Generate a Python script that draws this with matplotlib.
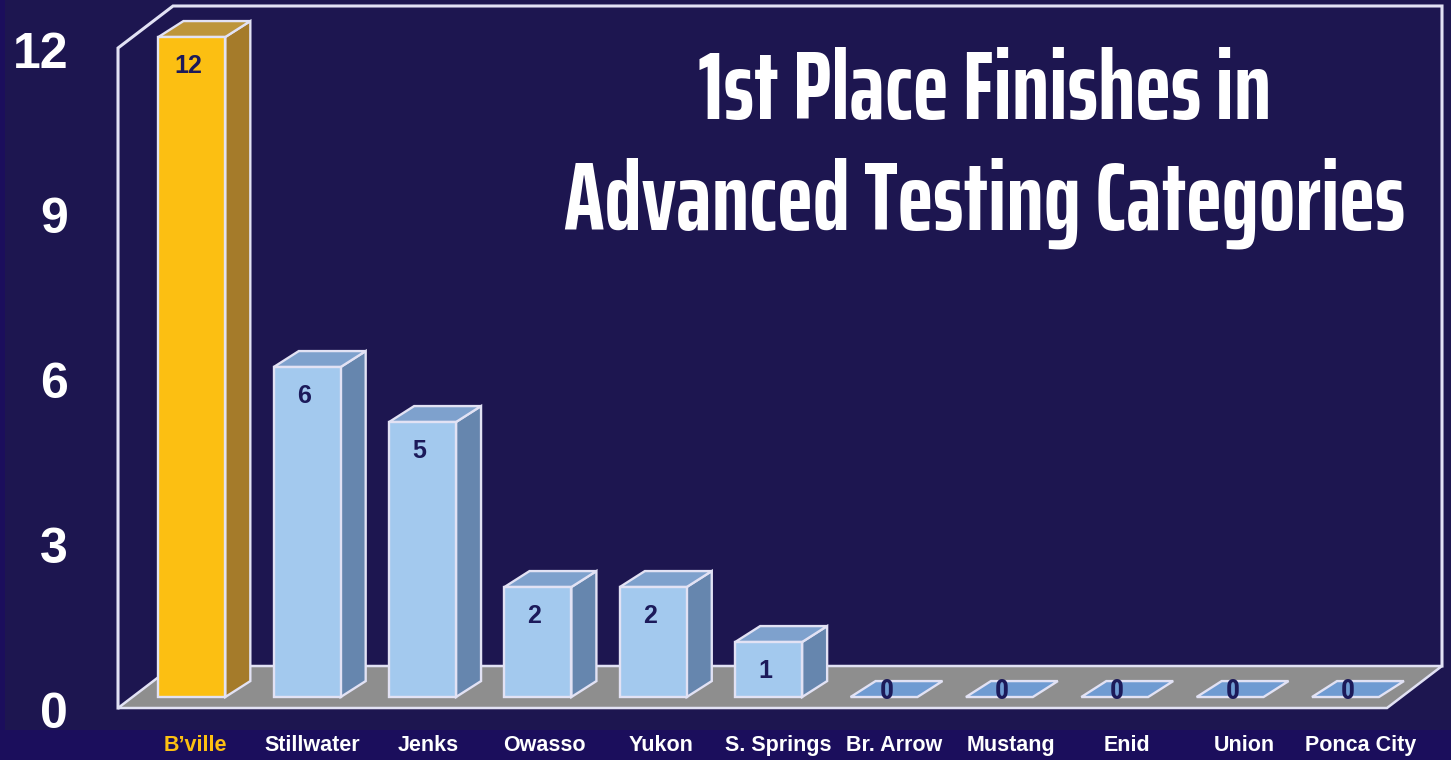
import matplotlib
matplotlib.use("Agg")
import matplotlib.pyplot as plt
from matplotlib.patches import Polygon, Rectangle

# data
schools = ["B\u2019ville", "Stillwater", "Jenks", "Owasso", "Yukon", "S. Springs",
           "Br. Arrow", "Mustang", "Enid", "Union", "Ponca City"]
wins = [12, 6, 5, 2, 2, 1, 0, 0, 0, 0, 0]
yticks = [0, 3, 6, 9, 12]
title1 = "1st Place Finishes in"
title2 = "Advanced Testing Categories"

# style
panel_bg = "#1d1650"
strip_bg = "#1b0e5c"
edge = "#e2e2f4"
floor_col = "#8e8e8e"
gold = ("#fcbf12", "#bd953a", "#a57b2a")     # front, top, side
blue = ("#a3c9ee", "#7ea1cd", "#6686ae")
zero_col = "#6f9bd2"
num_col = "#1c1a5a"
sans = ["Liberation Sans", "DejaVu Sans"]
narrow = ["Roboto Condensed", "Liberation Sans", "DejaVu Sans"]
tfont = ["Saira ExtraCondensed", "Roboto Condensed", "DejaVu Sans"]

box_dx, box_dy = 0.477, 0.764      # depth of the back wall
base_dx, base_dy = 0.14, 0.2       # bars sit a bit behind the front edge
bar_w = 0.58
bar_dx, bar_dy = 0.217, 0.29

fig = plt.figure(figsize=(14.51, 7.6), dpi=100, facecolor=strip_bg)
ax = fig.add_axes([0, 0, 1, 1])
ax.set_xlim(-1.523, 11.055)
ax.set_ylim(-0.945, 12.873)
ax.axis("off")

# panel background
ax.add_patch(Rectangle((-1.48, -0.40), 13, 14, facecolor=panel_bg, edgecolor="none", zorder=0))

n = len(schools)
x0, x1 = -0.5, n - 0.5

# floor
floor = Polygon([(x0, 0), (x1, 0), (x1 + box_dx, box_dy), (x0 + box_dx, box_dy)],
                closed=True, facecolor=floor_col, edgecolor=edge, lw=1.8, zorder=1)
ax.add_patch(floor)

# wall outline
top = yticks[-1]
ax.plot([x0, x0, x0 + box_dx, x1 + box_dx, x1 + box_dx],
        [0, top, top + box_dy, top + box_dy, box_dy],
        color=edge, lw=2.2, zorder=1, solid_joinstyle="miter")

# bars
for i, (name, v) in enumerate(zip(schools, wins)):
    front, topc, side = gold if i == 0 else blue
    c = i + base_dx
    l, r = c - bar_w / 2, c + bar_w / 2
    b = base_dy
    if v > 0:
        ax.add_patch(Polygon([(r, b), (r + bar_dx, b + bar_dy), (r + bar_dx, b + v + bar_dy), (r, b + v)],
                             facecolor=side, edgecolor=edge, lw=1.7, zorder=3))
        ax.add_patch(Polygon([(l, b + v), (r, b + v), (r + bar_dx, b + v + bar_dy), (l + bar_dx, b + v + bar_dy)],
                             facecolor=topc, edgecolor=edge, lw=1.7, zorder=3))
        ax.add_patch(Rectangle((l, b), bar_w, v, facecolor=front, edgecolor=edge, lw=1.7, zorder=4))
        ax.text(c - 0.03, b + v - 0.53, str(v), color=num_col, fontsize=18, fontweight="bold",
                family=sans, ha="center", va="center", zorder=5)
    else:
        ax.add_patch(Polygon([(l, b), (r, b), (r + bar_dx, b + bar_dy), (l + bar_dx, b + bar_dy)],
                             facecolor=zero_col, edgecolor=edge, lw=1.7, zorder=3))
        ax.text(c + 0.02, b + bar_dy / 2 - 0.05, str(v), color=num_col, fontsize=20, fontweight="bold",
                family=narrow, ha="center", va="center", zorder=5)

    # category label
    ax.text(i * 1.01 + 0.17, -0.69, name, color=gold[0] if i == 0 else "white",
            fontsize=15.5, fontweight="bold", family=sans,
            ha="center", va="center", zorder=5)

# y tick labels
for t in yticks:
    ax.text(-0.933, t - 0.12, str(t), color="white", fontsize=36, fontweight="bold",
            family=sans, ha="right", va="center", zorder=5)

# title, shrunk to the width it has in the original
t1 = ax.text(7.015, 11.2, title1, color="white", fontsize=80, fontweight="bold",
             family=tfont, ha="center", va="center", zorder=5)
t2 = ax.text(7.015, 9.18, title2, color="white", fontsize=80, fontweight="bold",
             family=tfont, ha="center", va="center", zorder=5)
renderer = fig.canvas.get_renderer()
w2 = t2.get_window_extent(renderer).width
size = min(80, 80 * 842 / w2)
t1.set_fontsize(size)
t2.set_fontsize(size)

fig.savefig("out.png", dpi=100, facecolor=fig.get_facecolor())
